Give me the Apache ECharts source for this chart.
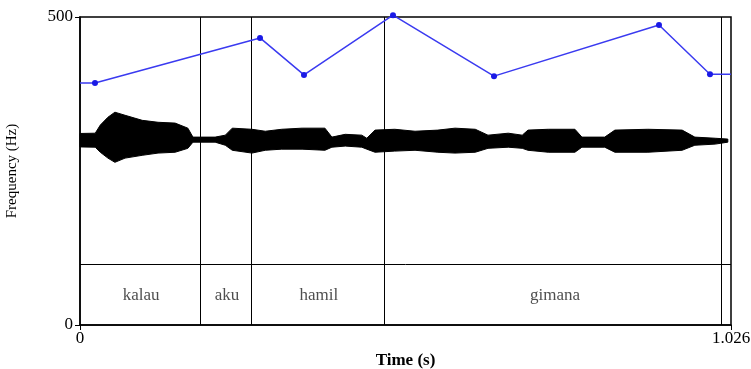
<!DOCTYPE html>
<html>
<head>
<meta charset="utf-8">
<script src="https://cdn.jsdelivr.net/npm/echarts@6/dist/echarts.min.js"></script>
<style>
  html, body { margin: 0; padding: 0; background: #fff; }
  #main { width: 751px; height: 369px; }
</style>
</head>
<body>
<div id="main"></div>
<script>
// pitch contour (s, Hz)
const pitchTimes = [0.0236, 0.2837, 0.353, 0.4933, 0.6525, 0.9125, 0.9929];
const pitchHz = [393, 466, 406, 503, 404, 487, 407];

// waveform envelope (s, relative amplitude)
const waveTimes = [0.000, 0.024, 0.032, 0.044, 0.055, 0.071, 0.098, 0.123, 0.150, 0.170, 0.178, 0.213,
  0.229, 0.240, 0.271, 0.292, 0.318, 0.350, 0.386, 0.397, 0.418, 0.444, 0.452, 0.465, 0.496, 0.528,
  0.564, 0.591, 0.623, 0.643, 0.675, 0.697, 0.706, 0.738, 0.780, 0.791, 0.827, 0.843, 0.895, 0.949,
  0.969, 1.001, 1.021];
const waveTop = [0.24, 0.25, 0.54, 0.82, 1.0, 0.89, 0.71, 0.64, 0.61, 0.43, 0.11, 0.11,
  0.18, 0.43, 0.39, 0.32, 0.39, 0.43, 0.43, 0.11, 0.21, 0.18, 0.07, 0.36, 0.39, 0.32,
  0.36, 0.43, 0.39, 0.18, 0.25, 0.18, 0.36, 0.39, 0.39, 0.11, 0.11, 0.36, 0.39, 0.36,
  0.11, 0.07, 0.04];
const waveBottom = [-0.24, -0.25, -0.43, -0.64, -0.79, -0.64, -0.54, -0.46, -0.43, -0.29, -0.07, -0.07,
  -0.18, -0.36, -0.46, -0.36, -0.32, -0.32, -0.36, -0.25, -0.21, -0.25, -0.32, -0.43, -0.39, -0.36,
  -0.43, -0.46, -0.43, -0.29, -0.25, -0.29, -0.36, -0.43, -0.43, -0.25, -0.25, -0.43, -0.43, -0.36,
  -0.18, -0.14, -0.07];

// text tier
const tierBounds = [0, 0.1927, 0.2706, 0.4823, 1.015];
const tierWords = ['kalau', 'aku', 'hamil', 'gimana'];
const tierTop = 99;
const tierLabelY = 48;

const tMax = 1.026;
const fMax = 500;

const serif = '"Liberation Serif", "DejaVu Serif", serif';

const pitchLine = [[0, pitchHz[0]]]
  .concat(pitchTimes.map((t, i) => [t, pitchHz[i]]))
  .concat([[tMax, pitchHz[pitchHz.length - 1]]])
  .map((p, i, arr) => (i === 0 || i === arr.length - 1)
    ? { value: p, symbol: 'none' } : { value: p });

const chart = echarts.init(document.getElementById('main'));

chart.setOption({
  animation: false,
  grid: {
    left: 80, top: 17, right: 20, bottom: 44,
    outerBoundsMode: 'none',
    show: true, borderColor: '#000', borderWidth: 1.5, backgroundColor: 'transparent'
  },
  xAxis: {
    type: 'value', min: 0, max: tMax, interval: tMax,
    name: 'Time (s)', nameLocation: 'middle', nameGap: 24,
    nameTextStyle: { fontFamily: serif, fontSize: 17, fontWeight: 'bold', color: '#000' },
    axisLine: { show: true, lineStyle: { color: '#000', width: 1.5 } },
    axisTick: { show: true, length: 5, lineStyle: { color: '#000' } },
    axisLabel: { fontFamily: serif, fontSize: 17, color: '#000', margin: 5,
      formatter: v => (v === 0 ? '0' : '1.026') },
    splitLine: { show: false }
  },
  yAxis: [{
    type: 'value', min: 0, max: fMax, interval: fMax,
    name: 'Frequency (Hz)', nameLocation: 'middle', nameGap: 60,
    nameTextStyle: { fontFamily: serif, fontSize: 15, color: '#000' },
    axisLine: { show: true, lineStyle: { color: '#000', width: 1.5 } },
    axisTick: { show: true, length: 5, lineStyle: { color: '#000' } },
    axisLabel: { fontFamily: serif, fontSize: 17, color: '#000', margin: 7 },
    splitLine: { show: false }
  }, {
    type: 'value', min: -6.6, max: 4.4, show: false
  }],
  series: [
    {
      type: 'custom',
      yAxisIndex: 1,
      data: waveTimes.map((t, i) => [t, waveTop[i], waveBottom[i]]),
      encode: { x: 0, y: [1, 2] },
      renderItem: (params, api) => {
        if (params.dataIndex !== 0) return;
        const pts = [];
        waveTimes.forEach((t, i) => pts.push(api.coord([t, waveTop[i]])));
        for (let i = waveTimes.length - 1; i >= 0; i--) pts.push(api.coord([waveTimes[i], waveBottom[i]]));
        return { type: 'polygon', shape: { points: pts }, style: { fill: '#000', stroke: '#000', lineWidth: 1 } };
      },
      silent: true, z: 2
    },
    {
      type: 'line',
      data: [],
      silent: true,
      markLine: {
        symbol: 'none', silent: true, animation: false,
        label: { show: false },
        lineStyle: { color: '#000', width: 1, type: 'solid' },
        data: tierBounds.slice(1).map(b => ({ xAxis: b })).concat([{ yAxis: tierTop }])
      },
      z: 3
    },
    {
      type: 'scatter',
      symbolSize: 0,
      data: tierWords.map((w, i) => ({ value: [(tierBounds[i] + tierBounds[i + 1]) / 2, tierLabelY], name: w })),
      label: {
        show: true, position: 'inside', formatter: p => p.name,
        fontFamily: serif, fontSize: 17, color: '#222'
      },
      silent: true, z: 4
    },
    {
      type: 'line',
      data: pitchLine,
      clip: false,
      symbol: 'circle', symbolSize: 6,
      lineStyle: { color: '#3a3af0', width: 1.5 },
      itemStyle: { color: '#1a1ae6' },
      silent: true, z: 5
    }
  ]
});
</script>
</body>
</html>
